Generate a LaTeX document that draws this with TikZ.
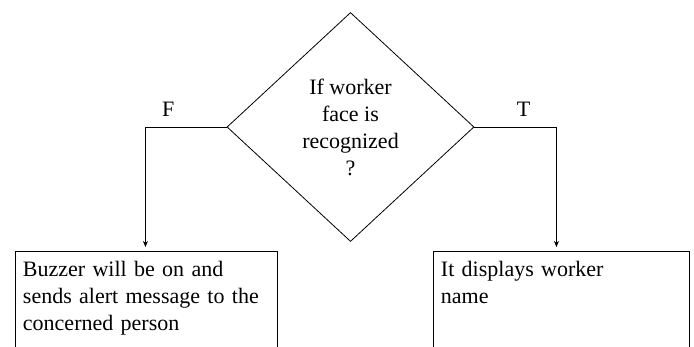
\documentclass[tikz,border=0pt]{standalone}
\usepackage{fontspec}
\setmainfont{Liberation Serif}
\usepackage{tikz}
\usetikzlibrary{shapes.geometric,arrows.meta}

\begin{document}
\begin{tikzpicture}[x=1pt,y=-1pt,
    txt/.style={font=\fontsize{22}{27}\selectfont},
    decision/.style={diamond,draw,line width=0.8pt,inner sep=0pt,
      minimum width=247pt,minimum height=229pt,align=center,txt},
    outbox/.style={draw,line width=0.9pt,anchor=north west,align=left,txt,
      inner xsep=7.5pt,inner ysep=10pt,text height=15pt,text depth=80pt},
    flow/.style={line width=0.8pt,-{Stealth[length=6pt,width=5pt]},shorten >=4pt}]

    % page size
    \useasboundingbox (0,0) rectangle (694,346);
    \clip (0,0) rectangle (694,346);

    % draw decision
    \node[decision] (check) at (350.5,127) {If worker\\face is\\recognized\\?};

    % draw boxes
    \node[outbox,text width=247pt] (buzzer) at (15,251)
      {Buzzer will be on and\\sends alert message to the\\concerned person};
    \node[outbox,text width=241pt] (display) at (433,251)
      {It displays worker\\name};

    % draw connectors
    \draw[flow] (check.west) -| node[pos=0.36,above=7pt,txt] (lblf) {F} ([xshift=-1pt]buzzer.north);
    \draw[flow] (check.east) -| node[pos=0.3,above=7pt,txt] (lblt) {T} ([xshift=-5pt]display.north);

\end{tikzpicture}
\end{document}
